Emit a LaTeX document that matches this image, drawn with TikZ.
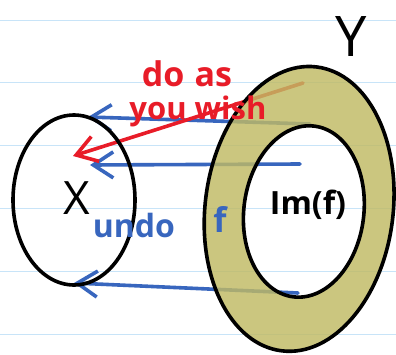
\documentclass[tikz,border=0pt]{standalone}
\usepackage{fontspec}
\setmainfont{Open Sans}
\usetikzlibrary{arrows.meta}
\definecolor{rulecol}{RGB}{200,228,248}
\definecolor{inkblue}{RGB}{56,102,190}
\definecolor{inkred}{RGB}{232,28,40}
\definecolor{olivefill}{RGB}{192,186,100}
\begin{document}
\begin{tikzpicture}[x=1pt,y=-1pt,
  ink/.style={line width=3.6pt,line cap=round,line join=round},
  rulestyle/.style={draw=rulecol,line width=1.8pt},
  bluearrow/.style={ink,draw=inkblue,-{Straight Barb[length=20pt,width=26pt,line width=3.6pt]}},
  redarrow/.style={ink,draw=inkred,-{Straight Barb[length=20pt,width=26pt,line width=3.6pt]}},
  label/.style={inner sep=0pt,anchor=base}]
\useasboundingbox (0,0) rectangle (396,354);
\fill[white] (0,0) rectangle (396,354);
% ruled paper
\foreach \yy in {20.5,82.5,145.5,208.5,271.5,334.5}
  \draw[rulestyle] (0,\yy) -- (396,\yy);
% arrow end points
\coordinate (b1t) at (310,124);
\coordinate (b1h) at (88,117);
\coordinate (b2t) at (300,164);
\coordinate (b2h) at (90,165);
\coordinate (b3t) at (298,293);
\coordinate (b3h) at (74,283);
\coordinate (rt) at (303,83);
\coordinate (rh) at (73,156);
\draw[bluearrow] (b1t) -- (b1h);
\draw[bluearrow] (b2t) -- (b2h);
\draw[bluearrow] (b3t) -- (b3h);
\draw[redarrow] (rt) -- (rh);
% Y annulus
\begin{scope}[rotate around={-7:(300,210)}]
  \fill[olivefill,opacity=0.82,even odd rule]
    (299,209) ellipse [x radius=94,y radius=143]
    (304,211) ellipse [x radius=60,y radius=86];
  \draw[ink,black] (299,209) ellipse [x radius=94,y radius=143];
  \draw[ink,black] (304,211) ellipse [x radius=60,y radius=86];
\end{scope}
% X set
\draw[ink,black] (74,200) ellipse [x radius=61,y radius=85];
% labels
\node[label,text=black,font=\fontsize{46}{46}\selectfont] (X) at (77,214) {X};
\node[label,text=black,font=\fontsize{56}{56}\selectfont] (Y) at (351,56) {Y};
\node[label,text=black,font=\bfseries\fontsize{32}{32}\selectfont] (Im) at (308,214) {Im(f)};
\node[label,text=inkred,font=\bfseries\fontsize{34}{34}\selectfont] (doas) at (187,86) {do\hspace{0.3em}as};
\node[label,text=inkred,font=\bfseries\fontsize{31}{31}\selectfont] (wish) at (198,119) {you wish};
\node[label,text=inkblue,font=\bfseries\fontsize{32}{32}\selectfont] (undo) at (134,237) {undo};
\node[label,text=inkblue,font=\bfseries\fontsize{34}{34}\selectfont] (f) at (220,232) {f};
\end{tikzpicture}
\end{document}
